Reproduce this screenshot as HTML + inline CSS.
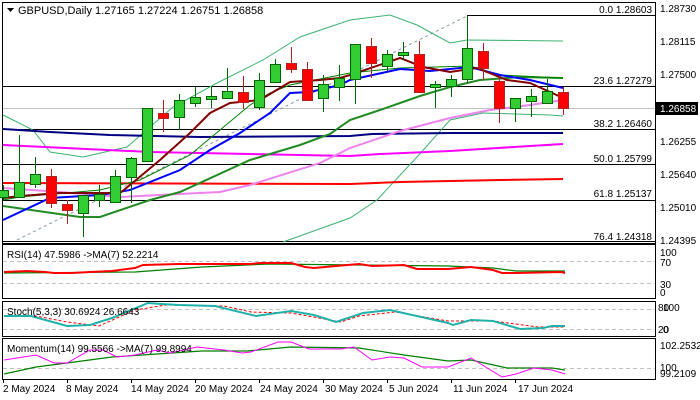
<!DOCTYPE html>
<html><head><meta charset="utf-8"><style>
html,body{margin:0;padding:0;background:#fff;}
svg{display:block;font-family:"Liberation Sans",sans-serif;}
</style></head><body>
<svg width="700" height="400" viewBox="0 0 700 400" xmlns="http://www.w3.org/2000/svg">
<rect width="700" height="400" fill="#fff"/>
<g shape-rendering="crispEdges">
<rect x="2.5" y="2.5" width="653" height="241" fill="none" stroke="#000"/>
<line x1="467" y1="15.5" x2="655" y2="15.5" stroke="#000"/>
<line x1="3" y1="86.5" x2="655" y2="86.5" stroke="#000"/>
<line x1="3" y1="108.5" x2="655" y2="108.5" stroke="#c0c0c0"/>
<line x1="3" y1="129.5" x2="655" y2="129.5" stroke="#000"/>
<line x1="3" y1="164.5" x2="655" y2="164.5" stroke="#000"/>
<line x1="3" y1="200.5" x2="655" y2="200.5" stroke="#000"/>
<line x1="3" y1="241.5" x2="655" y2="241.5" stroke="#000"/>
</g>
<line x1="17" y1="240" x2="467" y2="16" stroke="#8899aa" stroke-dasharray="3,3"/>
<polyline fill="none" stroke="#3cb371" stroke-width="1" points="3,115 33,130 50,152 83,157 127,147 143,133 173,107 217,83 263,60 300,37 350,20 390,15 417,25 450,43 467,40 563,41"/>
<polyline fill="none" stroke="#3cb371" stroke-width="1" points="283,242 350,218 377,200 417,157 450,120 483,113 550,115 563,116"/>
<polyline fill="none" stroke="#000080" stroke-width="2" points="3,129 50,132 110,135 200,137 350,136 372,134 452,133 563,133"/>
<polyline fill="none" stroke="#ff00ff" stroke-width="2" points="3,145 150,152 300,155 350,156 380,154 450,151 530,146 563,144"/>
<polyline fill="none" stroke="#ff0000" stroke-width="2" points="3,183 350,184 400,182 500,180 563,179"/>
<polyline fill="none" stroke="#ee82ee" stroke-width="2" points="3,188 60,192 120,197 220,192 250,185 320,163 350,148 400,131 450,118 490,110 530,105 563,100"/>
<polyline fill="none" stroke="#228b22" stroke-width="2" points="3,206 80,217 100,217 150,200 180,192 250,160 300,145 330,134 350,120 380,110 420,96 450,87 480,80 520,77 563,78"/>
<polyline fill="none" stroke="#008000" stroke-width="1" points="3,200 20,197 100,190 140,180 190,155 220,130 250,105 270,93 290,85 350,73 400,68 470,66 500,75 563,78"/>
<polyline fill="none" stroke="#0000ff" stroke-width="2" points="3,220 50,198 100,195 130,190 180,170 210,150 240,133 270,113 290,93 310,92 340,85 350,80 400,69 430,71 470,67 500,75 530,80 563,88"/>
<polyline fill="none" stroke="#800000" stroke-width="2" points="3,198 20,196 60,193 120,193 130,185 160,160 190,133 210,113 230,103 260,100 290,82 320,80 340,78 350,75 400,58 423,67 450,72 477,68 507,80 530,83 550,92 563,98"/>
<g stroke-width="1" shape-rendering="crispEdges">
<g stroke="#006400" fill="#32cd32">
<line x1="3.5" y1="185" x2="3.5" y2="200"/><rect x="-1.5" y="190.5" width="10" height="7"/>
<line x1="19.5" y1="135" x2="19.5" y2="197"/><rect x="14.5" y="182.5" width="10" height="15"/>
<line x1="35.5" y1="157" x2="35.5" y2="188"/><rect x="30.5" y="174.5" width="10" height="10"/>
<line x1="83.5" y1="195" x2="83.5" y2="237"/><rect x="78.5" y="195.5" width="10" height="18"/>
<line x1="99.5" y1="185" x2="99.5" y2="207"/><rect x="94.5" y="194.5" width="10" height="6"/>
<line x1="115.5" y1="170" x2="115.5" y2="202"/><rect x="110.5" y="176.5" width="10" height="26"/>
<line x1="131.5" y1="157" x2="131.5" y2="203"/><rect x="126.5" y="158.5" width="10" height="19"/>
<line x1="147.5" y1="108" x2="147.5" y2="161"/><rect x="142.5" y="108.5" width="10" height="53"/>
<line x1="179.5" y1="94" x2="179.5" y2="130"/><rect x="174.5" y="100.5" width="10" height="17"/>
<line x1="195.5" y1="87" x2="195.5" y2="107"/><rect x="190.5" y="97.5" width="10" height="6"/>
<line x1="211.5" y1="87" x2="211.5" y2="108"/><rect x="206.5" y="96.5" width="10" height="3"/>
<line x1="227.5" y1="68" x2="227.5" y2="99"/><rect x="222.5" y="91.5" width="10" height="7"/>
<line x1="259.5" y1="73" x2="259.5" y2="110"/><rect x="254.5" y="80.5" width="10" height="27"/>
<line x1="275.5" y1="59" x2="275.5" y2="82"/><rect x="270.5" y="64.5" width="10" height="18"/>
<line x1="323.5" y1="75" x2="323.5" y2="112"/><rect x="318.5" y="84.5" width="10" height="14"/>
<line x1="339.5" y1="65" x2="339.5" y2="101"/><rect x="334.5" y="78.5" width="10" height="9"/>
<line x1="355.5" y1="44" x2="355.5" y2="104"/><rect x="350.5" y="44.5" width="10" height="35"/>
<line x1="387.5" y1="50" x2="387.5" y2="71"/><rect x="382.5" y="54.5" width="10" height="12"/>
<line x1="403.5" y1="42" x2="403.5" y2="60"/><rect x="398.5" y="52.5" width="10" height="3"/>
<line x1="435.5" y1="81" x2="435.5" y2="108"/><rect x="430.5" y="84.5" width="10" height="3"/>
<line x1="451.5" y1="75" x2="451.5" y2="97"/><rect x="446.5" y="79.5" width="10" height="7"/>
<line x1="467.5" y1="16" x2="467.5" y2="83"/><rect x="462.5" y="48.5" width="10" height="31"/>
<line x1="515.5" y1="98" x2="515.5" y2="122"/><rect x="510.5" y="98.5" width="10" height="10"/>
<line x1="531.5" y1="89" x2="531.5" y2="117"/><rect x="526.5" y="96.5" width="10" height="5"/>
<line x1="547.5" y1="79" x2="547.5" y2="103"/><rect x="542.5" y="91.5" width="10" height="12"/>
</g>
<g stroke="#b22222" fill="#ff0000">
<line x1="51.5" y1="169" x2="51.5" y2="208"/><rect x="46.5" y="176.5" width="10" height="27"/>
<line x1="67.5" y1="200" x2="67.5" y2="224"/><rect x="62.5" y="204.5" width="10" height="6"/>
<line x1="163.5" y1="100" x2="163.5" y2="132"/><rect x="158.5" y="113.5" width="10" height="5"/>
<line x1="243.5" y1="76" x2="243.5" y2="109"/><rect x="238.5" y="92.5" width="10" height="10"/>
<line x1="291.5" y1="47" x2="291.5" y2="73"/><rect x="286.5" y="63.5" width="10" height="6"/>
<line x1="307.5" y1="62" x2="307.5" y2="101"/><rect x="302.5" y="69.5" width="10" height="31"/>
<line x1="371.5" y1="38" x2="371.5" y2="78"/><rect x="366.5" y="46.5" width="10" height="17"/>
<line x1="419.5" y1="41" x2="419.5" y2="92"/><rect x="414.5" y="54.5" width="10" height="38"/>
<line x1="483.5" y1="43" x2="483.5" y2="80"/><rect x="478.5" y="51.5" width="10" height="17"/>
<line x1="499.5" y1="77" x2="499.5" y2="123"/><rect x="494.5" y="81.5" width="10" height="27"/>
<line x1="563.5" y1="87" x2="563.5" y2="115"/><rect x="558.5" y="92.5" width="10" height="16"/>
</g>
</g>
<polygon points="7,8 14,8 10.5,12" fill="#000"/>
<text x="18" y="14" font-size="11" fill="#000">GBPUSD,Daily  1.27165 1.27224 1.26751 1.26858</text>
<g font-size="10" fill="#000" text-anchor="end">
<text x="652" y="13">0.0 1.28603</text>
<text x="652" y="84">23.6 1.27279</text>
<text x="652" y="127">38.2 1.26460</text>
<text x="652" y="162">50.0 1.25799</text>
<text x="652" y="197">61.8 1.25137</text>
<text x="652" y="240">76.4 1.24318</text>
</g>
<g font-size="10" fill="#000">
<text x="660" y="12">1.28730</text>
<text x="660" y="45">1.28115</text>
<text x="660" y="78">1.27500</text>
<text x="660" y="145">1.26255</text>
<text x="660" y="178">1.25640</text>
<text x="660" y="211">1.25010</text>
<text x="660" y="244">1.24395</text>
</g>
<rect x="656" y="102" width="42" height="13" fill="#000"/>
<text x="660" y="112" font-size="10" fill="#fff">1.26858</text>
<g shape-rendering="crispEdges">
<rect x="2.5" y="244.5" width="653" height="54" fill="none" stroke="#000"/>
<line x1="3" y1="261.5" x2="655" y2="261.5" stroke="#c0c0c0" stroke-dasharray="4,3"/>
<line x1="3" y1="283.5" x2="655" y2="283.5" stroke="#c0c0c0" stroke-dasharray="4,3"/>
</g>
<polyline fill="none" stroke="#008000" stroke-width="1.2" points="4,273 135,272 202,267 269,264 359,265 448,266 493,268 516,271 565,271"/>
<polyline fill="none" stroke="#ff0000" stroke-width="2" points="4,272 27,271 45,272 54,273 72,273 90,272 112,271 135,268 143,265 179,264 224,264 251,264 260,263 291,263 305,267 314,268 336,266 359,264 372,266 404,265 417,269 448,269 471,267 493,270 502,273 516,273 561,272 565,273"/>
<text x="7" y="258" font-size="10" fill="#000">RSI(14) 47.5986  -&gt;MA(7) 52.2214</text>
<g font-size="10" fill="#000">
<text x="660" y="256">100</text><text x="660" y="266">70</text><text x="660" y="288">30</text><text x="660" y="296">0</text>
</g>
<g shape-rendering="crispEdges">
<rect x="2.5" y="301.5" width="653" height="35" fill="none" stroke="#000"/>
<line x1="3" y1="309.5" x2="655" y2="309.5" stroke="#c0c0c0" stroke-dasharray="4,3"/>
<line x1="3" y1="329.5" x2="655" y2="329.5" stroke="#c0c0c0" stroke-dasharray="4,3"/>
</g>
<polyline fill="none" stroke="#ff0000" stroke-width="1" stroke-dasharray="3,2" points="4,316 36,316 67,322 99,326 135,310 166,305 224,306 251,312 291,313 341,322 359,316 395,312 448,321 493,321 538,327 565,327"/>
<polyline fill="none" stroke="#20b2aa" stroke-width="2" points="4,316 31,316 67,326 90,325 112,318 148,303 161,304 179,305 215,306 256,316 291,311 314,315 336,322 363,313 390,310 448,323 453,325 471,320 493,321 520,329 543,328 552,326 565,326"/>
<text x="7" y="315" font-size="10" fill="#000">Stoch(5,3,3) 30.6924 26.6643</text>
<g font-size="10" fill="#000">
<text x="658" y="311">80</text><text x="663" y="311">100</text><text x="658" y="333">20</text><text x="663" y="333">0</text>
</g>
<g shape-rendering="crispEdges">
<rect x="2.5" y="338.5" width="653" height="41" fill="none" stroke="#000"/>
<line x1="3" y1="368.5" x2="655" y2="368.5" stroke="#c0c0c0" stroke-dasharray="4,3"/>
</g>
<polyline fill="none" stroke="#008000" stroke-width="1.2" points="4,374 36,367 67,363 112,357 157,354 202,351 247,351 291,347 359,348 404,355 448,361 471,360 507,368 552,368 565,370"/>
<polyline fill="none" stroke="#ff00ff" stroke-width="1" points="4,360 36,355 54,363 67,363 90,350 103,350 117,357 135,355 157,350 170,353 197,347 224,350 242,353 251,352 278,342 291,342 309,349 341,349 354,347 372,360 390,357 404,358 422,367 448,367 471,358 502,377 516,374 534,368 552,370 565,374"/>
<text x="7" y="352" font-size="10" fill="#000">Momentum(14) 99.5566  -&gt;MA(7) 99.8994</text>
<g font-size="10" fill="#000">
<text x="660" y="349">102.2532</text><text x="660" y="371">100</text><text x="660" y="377">99.2109</text>
</g>
<g stroke="#000" shape-rendering="crispEdges">
<line x1="3.5" y1="380" x2="3.5" y2="383"/><line x1="67.5" y1="380" x2="67.5" y2="383"/><line x1="131.5" y1="380" x2="131.5" y2="383"/><line x1="195.5" y1="380" x2="195.5" y2="383"/><line x1="259.5" y1="380" x2="259.5" y2="383"/><line x1="323.5" y1="380" x2="323.5" y2="383"/><line x1="387.5" y1="380" x2="387.5" y2="383"/><line x1="451.5" y1="380" x2="451.5" y2="383"/><line x1="515.5" y1="380" x2="515.5" y2="383"/>
</g>
<g font-size="10" fill="#000">
<text x="3" y="392">2 May 2024</text>
<text x="66" y="392">8 May 2024</text>
<text x="131" y="392">14 May 2024</text>
<text x="195" y="392">20 May 2024</text>
<text x="260" y="392">24 May 2024</text>
<text x="325" y="392">30 May 2024</text>
<text x="389" y="392">5 Jun 2024</text>
<text x="453" y="392">11 Jun 2024</text>
<text x="518" y="392">17 Jun 2024</text>
</g>
</svg>
</body></html>
